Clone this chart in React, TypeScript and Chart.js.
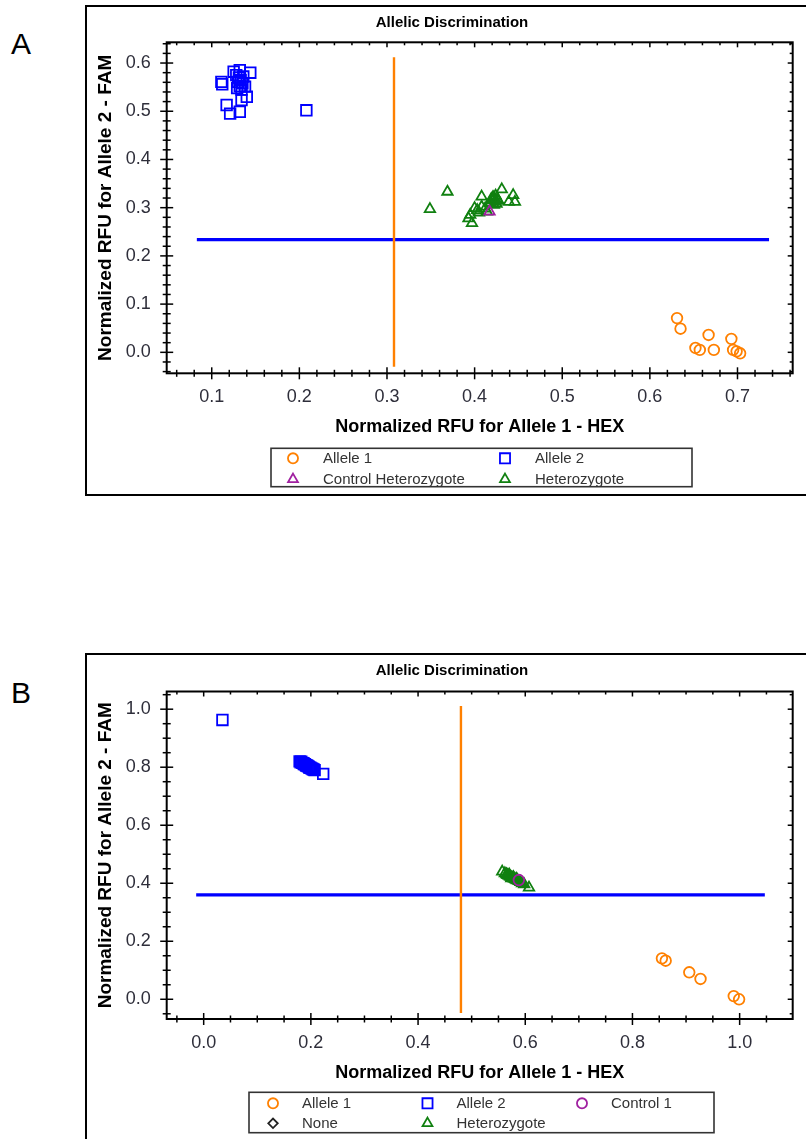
import React, { useEffect, useRef } from 'react';
import { Chart, registerables } from 'chart.js';
import { drawPoint } from 'chart.js/helpers';

Chart.register(...registerables);

// ---------------- Panel A data ----------------
const allele1A = [
  [0.631, 0.071], [0.635, 0.049], [0.652, 0.009], [0.657, 0.005], [0.667, 0.036],
  [0.673, 0.005], [0.693, 0.028], [0.695, 0.005], [0.699, 0.002], [0.703, -0.002],
];
const allele2A = [
  [0.111, 0.561], [0.112, 0.556], [0.117, 0.513], [0.121, 0.495], [0.125, 0.582],
  [0.128, 0.575], [0.129, 0.548], [0.130, 0.561], [0.131, 0.570], [0.132, 0.585],
  [0.132, 0.499], [0.132, 0.552], [0.133, 0.565], [0.134, 0.523], [0.134, 0.545],
  [0.135, 0.558], [0.136, 0.572], [0.138, 0.551], [0.140, 0.530], [0.144, 0.580],
  [0.208, 0.502],
];
const controlHetA = [[0.417, 0.292]];
const heterozygoteA = [
  [0.349, 0.297], [0.369, 0.333], [0.393, 0.278], [0.395, 0.285], [0.397, 0.268],
  [0.400, 0.299], [0.403, 0.295], [0.405, 0.290], [0.408, 0.302], [0.408, 0.323],
  [0.412, 0.298], [0.414, 0.292], [0.418, 0.310], [0.419, 0.318], [0.420, 0.315],
  [0.421, 0.322], [0.421, 0.317], [0.422, 0.306], [0.422, 0.320], [0.423, 0.312],
  [0.424, 0.325], [0.424, 0.316], [0.425, 0.308], [0.426, 0.318], [0.427, 0.314],
  [0.431, 0.338], [0.439, 0.312], [0.444, 0.326], [0.446, 0.312],
];
const hexThresholdA = 0.308;
const hexSpanA = [-0.030, 0.612];
const famThresholdA = 0.2336;
const famSpanA = [0.083, 0.736];
const xTicksA = [0.1, 0.2, 0.3, 0.4, 0.5, 0.6, 0.7];
const yTicksA = [0.0, 0.1, 0.2, 0.3, 0.4, 0.5, 0.6];
const xRangeA = [0.0486, 0.763];
const yRangeA = [-0.0435, 0.643];
const minorStepA = 0.02;

// ---------------- Panel B data ----------------
const allele1B = [
  [0.855, 0.141], [0.862, 0.133], [0.906, 0.093], [0.927, 0.070], [0.989, 0.011], [0.999, 0.0],
];
const allele2B = [
  [0.035, 0.963],
  [0.179, 0.820], [0.181, 0.817], [0.182, 0.819], [0.184, 0.815], [0.186, 0.814],
  [0.187, 0.811], [0.189, 0.810], [0.191, 0.807], [0.192, 0.806], [0.194, 0.804],
  [0.196, 0.802], [0.197, 0.799], [0.199, 0.798], [0.201, 0.796], [0.203, 0.794],
  [0.205, 0.792], [0.207, 0.790], [0.223, 0.777],
];
const control1B = [[0.588, 0.411]];
const noneB: number[][] = [];
const heterozygoteB = [
  [0.557, 0.440], [0.562, 0.434], [0.565, 0.431], [0.567, 0.428], [0.569, 0.426],
  [0.570, 0.430], [0.571, 0.424], [0.573, 0.422], [0.574, 0.417], [0.575, 0.420],
  [0.577, 0.418], [0.578, 0.421], [0.579, 0.416], [0.581, 0.414], [0.583, 0.412],
  [0.584, 0.415], [0.585, 0.410], [0.588, 0.407], [0.591, 0.404], [0.594, 0.400],
  [0.598, 0.396], [0.607, 0.385],
];
const hexThresholdB = 0.480;
const hexSpanB = [-0.047, 1.011];
const famThresholdB = 0.360;
const famSpanB = [-0.014, 1.047];
const xTicksB = [0.0, 0.2, 0.4, 0.6, 0.8, 1.0];
const yTicksB = [0.0, 0.2, 0.4, 0.6, 0.8, 1.0];
const xRangeB = [-0.069, 1.099];
const yRangeB = [-0.068, 1.061];
const minorStepB = 0.05;

// ---------------- styling ----------------
const FONT = "'Liberation Sans', Arial, Helvetica, sans-serif";
const ORANGE = '#FF8000';
const BLUE = '#0000FF';
const PURPLE = '#A020A0';
const GREEN = '#108010';
const DARK = '#333333';
const TICK_COLOR = '#2E2E3A';

const CANVAS_W = 719;
const CANVAS_H = 486;
const X_AXIS_H = 70;
const MARK_W = 1.8;

const toPts = (a: number[][]) => a.map(([x, y]) => ({ x, y }));

const axesPlugin = {
  id: 'frameAxes',
  afterDraw(chart: any, _args: any, o: any) {
    const { ctx, chartArea: a } = chart;
    const xs = chart.scales.x;
    const ys = chart.scales.y;
    const seg = (x1: number, y1: number, x2: number, y2: number) => {
      ctx.beginPath();
      ctx.moveTo(x1, y1);
      ctx.lineTo(x2, y2);
      ctx.stroke();
    };
    const steps = (min: number, max: number, step: number) => {
      const out: number[] = [];
      for (let k = Math.ceil(min / step - 1e-9); k * step <= max + 1e-9; k++) out.push(+(k * step).toFixed(6));
      return out;
    };
    const xMaj = xs.ticks.map((t: any) => t.value);
    const yMaj = ys.ticks.map((t: any) => t.value);
    const isMaj = (v: number, m: number[]) => m.some((q) => Math.abs(q - v) < 1e-6);
    ctx.save();
    ctx.strokeStyle = '#000';
    ctx.lineWidth = 1.5;
    for (const v of steps(xs.min, xs.max, o.minorStep)) {
      const p = xs.getPixelForValue(v);
      const maj = isMaj(v, xMaj);
      const l = maj ? 6 : 3.5;
      seg(p, a.bottom - l, p, a.bottom + l);
      seg(p, a.top, p, a.top + (maj ? 5 : 3));
    }
    for (const v of steps(ys.min, ys.max, o.minorStep)) {
      const p = ys.getPixelForValue(v);
      const maj = isMaj(v, yMaj);
      const l = maj ? 6.5 : 4;
      seg(a.left - l, p, a.left + l, p);
      seg(a.right - (maj ? 5 : 3), p, a.right, p);
    }
    ctx.lineWidth = 2;
    ctx.strokeRect(a.left, a.top, a.right - a.left, a.bottom - a.top);
    ctx.restore();
  },
};

const decorPlugin = {
  id: 'decor',
  afterDraw(chart: any, _args: any, o: any) {
    const { ctx } = chart;
    ctx.save();
    ctx.fillStyle = '#000';
    ctx.font = `bold 15px ${FONT}`;
    ctx.textAlign = 'center';
    ctx.textBaseline = 'middle';
    ctx.fillText(o.title, o.titleX, o.titleY);
    const L = o.legend;
    ctx.lineWidth = 1.6;
    ctx.strokeStyle = DARK;
    ctx.strokeRect(L.left, L.top, L.width, L.height);
    const items = chart.data.datasets.filter((d: any) => d.inLegend);
    ctx.font = `15px ${FONT}`;
    ctx.textAlign = 'left';
    items.forEach((d: any, i: number) => {
      const c = i % L.cols;
      const r = Math.floor(i / L.cols);
      const mx = L.markerX + c * L.colWidth;
      const my = L.rowY + r * L.rowHeight;
      ctx.strokeStyle = d.borderColor;
      ctx.fillStyle = 'rgba(0,0,0,0)';
      ctx.lineWidth = d.borderWidth;
      drawPoint(ctx, { pointStyle: d.pointStyle, radius: d.pointRadius * 0.95, borderWidth: d.borderWidth, rotation: 0 } as any, mx, my);
      ctx.fillStyle = DARK;
      ctx.fillText(d.label, mx + L.textGap, my + 0.5);
    });
    ctx.restore();
  },
};

type Series = { label: string; data: number[][]; color: string; style: string; radius: number };

type PanelSpec = {
  letter: string;
  frameTop: number;
  canvasTop: number;
  letterTop: number;
  area: { top: number; bottom: number };
  series: Series[];
  hex: number; hexSpan: number[]; fam: number; famSpan: number[];
  xTicks: number[]; yTicks: number[]; xRange: number[]; yRange: number[]; minorStep: number;
  titleY: number;
  legend: any;
};

const AREA_LEFT = 79.7;
const AREA_RIGHT = 705.7;

const panels: PanelSpec[] = [
  {
    letter: 'A', frameTop: 5, canvasTop: 8, letterTop: 29.1,
    area: { top: 34.3, bottom: 365.3 },
    series: [
      { label: 'Allele 1', data: allele1A, color: ORANGE, style: 'circle', radius: 5.3 },
      { label: 'Allele 2', data: allele2A, color: BLUE, style: 'rect', radius: 7.5 },
      { label: 'Control Heterozygote', data: controlHetA, color: PURPLE, style: 'triangle', radius: 6 },
      { label: 'Heterozygote', data: heterozygoteA, color: GREEN, style: 'triangle', radius: 6 },
    ],
    hex: hexThresholdA, hexSpan: hexSpanA, fam: famThresholdA, famSpan: famSpanA,
    xTicks: xTicksA, yTicks: yTicksA, xRange: xRangeA, yRange: yRangeA, minorStep: minorStepA,
    titleY: 14.5,
    legend: { left: 184, top: 440.3, width: 421, height: 38.4, markerX: 206, rowY: 450.3, rowHeight: 21, colWidth: 212, textGap: 30, cols: 2 },
  },
  {
    letter: 'B', frameTop: 653, canvasTop: 657, letterTop: 678.1,
    area: { top: 34.5, bottom: 362 },
    series: [
      { label: 'Allele 1', data: allele1B, color: ORANGE, style: 'circle', radius: 5.3 },
      { label: 'Allele 2', data: allele2B, color: BLUE, style: 'rect', radius: 7.5 },
      { label: 'Control 1', data: control1B, color: PURPLE, style: 'circle', radius: 5.3 },
      { label: 'None', data: noneB, color: '#222222', style: 'rectRot', radius: 5 },
      { label: 'Heterozygote', data: heterozygoteB, color: GREEN, style: 'triangle', radius: 6 },
    ],
    hex: hexThresholdB, hexSpan: hexSpanB, fam: famThresholdB, famSpan: famSpanB,
    xTicks: xTicksB, yTicks: yTicksB, xRange: xRangeB, yRange: yRangeB, minorStep: minorStepB,
    titleY: 14,
    legend: { left: 162, top: 435.3, width: 465, height: 40.4, markerX: 186, rowY: 446.3, rowHeight: 20, colWidth: 154.5, textGap: 29, cols: 3 },
  },
];

function Panel({ spec }: { spec: PanelSpec }) {
  const ref = useRef<HTMLCanvasElement | null>(null);
  useEffect(() => {
    if (!ref.current) return;
    const pointSets = spec.series.map((s) => ({
      label: s.label,
      data: toPts(s.data),
      pointStyle: s.style,
      pointRadius: s.radius,
      pointHoverRadius: s.radius,
      borderColor: s.color,
      pointBorderColor: s.color,
      backgroundColor: 'rgba(0,0,0,0)',
      pointBackgroundColor: 'rgba(0,0,0,0)',
      borderWidth: MARK_W,
      pointBorderWidth: MARK_W,
      showLine: false,
      order: 0,
      inLegend: true,
    }));
    const lineSets = [
      {
        label: 'HEX threshold',
        data: [{ x: spec.hex, y: spec.hexSpan[0] }, { x: spec.hex, y: spec.hexSpan[1] }],
        showLine: true, borderColor: ORANGE, borderWidth: 2.4, pointRadius: 0, fill: false, order: 5, inLegend: false,
      },
      {
        label: 'FAM threshold',
        data: [{ x: spec.famSpan[0], y: spec.fam }, { x: spec.famSpan[1], y: spec.fam }],
        showLine: true, borderColor: BLUE, borderWidth: 3.2, pointRadius: 0, fill: false, order: 5, inLegend: false,
      },
    ];
    const chart = new Chart(ref.current, {
      type: 'scatter',
      data: { datasets: [...pointSets, ...lineSets] as any },
      options: {
        responsive: false,
        animation: false,
        events: [],
        layout: {
          padding: {
            left: 0,
            top: spec.area.top,
            right: CANVAS_W - AREA_RIGHT,
            bottom: CANVAS_H - spec.area.bottom - X_AXIS_H,
          },
        },
        plugins: {
          legend: { display: false },
          title: { display: false },
          tooltip: { enabled: false },
          frameAxes: { minorStep: spec.minorStep },
          decor: { title: 'Allelic Discrimination', titleX: 365, titleY: spec.titleY, legend: spec.legend },
        } as any,
        scales: {
          x: {
            type: 'linear',
            position: 'bottom',
            min: spec.xRange[0],
            max: spec.xRange[1],
            afterBuildTicks: (s: any) => { s.ticks = spec.xTicks.map((v) => ({ value: v })); },
            afterFit: (s: any) => { s.height = X_AXIS_H; },
            grid: { display: false, drawTicks: true, tickLength: 8 },
            border: { display: false },
            ticks: {
              font: { family: FONT, size: 18 },
              color: TICK_COLOR,
              padding: 5.4,
              maxRotation: 0,
              autoSkip: false,
              callback: (v: any) => Number(v).toFixed(1),
            },
            title: {
              display: true,
              text: 'Normalized RFU for Allele 1 - HEX',
              color: '#000',
              font: { family: FONT, size: 18, weight: 'bold' },
              padding: { top: 0, bottom: 5.5 },
            },
          },
          y: {
            type: 'linear',
            position: 'left',
            min: spec.yRange[0],
            max: spec.yRange[1],
            afterBuildTicks: (s: any) => { s.ticks = spec.yTicks.map((v) => ({ value: v })); },
            afterFit: (s: any) => { s.width = AREA_LEFT; },
            grid: { display: false, drawTicks: true, tickLength: 8 },
            border: { display: false },
            ticks: {
              font: { family: FONT, size: 18 },
              color: TICK_COLOR,
              padding: 8,
              autoSkip: false,
              callback: (v: any) => Number(v).toFixed(1),
            },
            title: {
              display: true,
              text: 'Normalized RFU for Allele 2 - FAM',
              color: '#000',
              font: { family: FONT, size: 19, weight: 'bold' },
              padding: { top: 7.1, bottom: 0 },
            },
          },
        } as any,
      },
      plugins: [axesPlugin, decorPlugin],
    });
    return () => chart.destroy();
  }, [spec]);

  return (
    <>
      <div
        style={{
          position: 'absolute', left: 85, top: spec.frameTop, width: 800, height: 491,
          border: '2px solid #000', boxSizing: 'border-box',
        }}
      />
      <div
        style={{
          position: 'absolute', left: 11, top: spec.letterTop, fontFamily: FONT,
          fontSize: 30, lineHeight: '30px', color: '#000',
        }}
      >
        {spec.letter}
      </div>
      <canvas
        ref={ref}
        width={CANVAS_W}
        height={CANVAS_H}
        style={{ position: 'absolute', left: 87, top: spec.canvasTop, width: CANVAS_W, height: CANVAS_H }}
      />
    </>
  );
}

export default function App() {
  return (
    <div
      style={{
        position: 'absolute', left: 0, top: 0, width: 806, height: 1139,
        overflow: 'hidden', background: '#fff',
      }}
    >
      {panels.map((p) => (
        <Panel key={p.letter} spec={p} />
      ))}
    </div>
  );
}
